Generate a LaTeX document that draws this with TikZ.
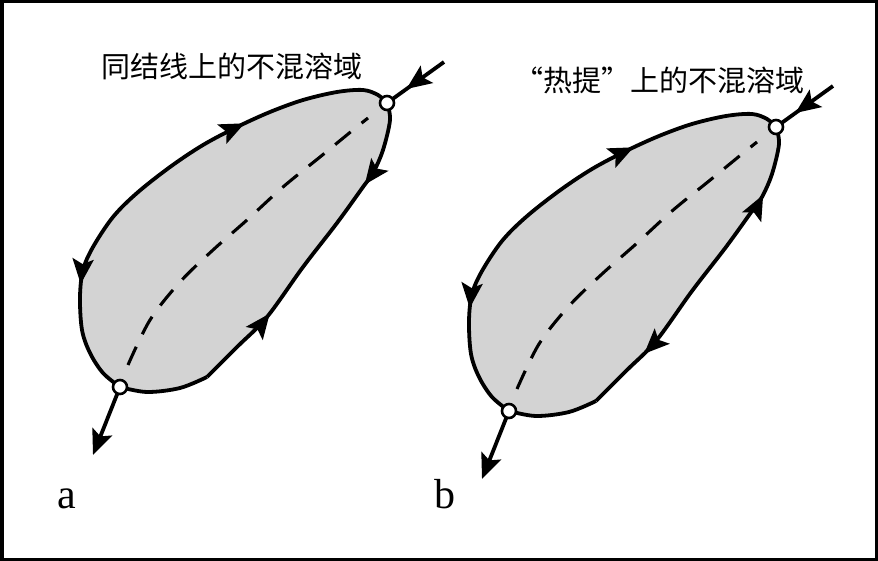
\documentclass[tikz,border=0pt]{standalone}
\usepackage{fontspec}
\setmainfont{Liberation Serif}
\newfontfamily\cjk{Noto Sans CJK SC}
\usetikzlibrary{arrows.meta,decorations.markings}
\definecolor{fillg}{RGB}{211,211,211}
\tikzset{
  myarr/.tip={Stealth[length=25pt,width=21pt,inset=5pt]},
  bnd/.style={line width=3.8pt, line join=round},
  hole/.style={circle, draw, fill=white, line width=2.6pt, minimum size=14pt, inner sep=0pt},
  fwd/.style={postaction={decorate,decoration={markings,mark=at position #1 with {\arrow{myarr}}}}},
  bwd/.style={postaction={decorate,decoration={markings,mark=at position #1 with {\arrowreversed{myarr}}}}},
  dashln/.style={line width=3.1pt, dash pattern=on 20pt off 14pt},
  ttl/.style={font=\cjk\fontsize{29}{29}\selectfont},
  lbl/.style={font=\fontsize{42}{42}\selectfont, anchor=base}
}
% #1 suffix, #2 first right-side arrow, #3 second right-side arrow
\newcommand\drawblob[3]{%
  \coordinate (T#1) at (387,103);
  \coordinate (B#1) at (120,387);
  \coordinate (C#1) at (207,377);
  \coordinate (in#1) at (444,62);
  \coordinate (out#1) at (93,455);
  \fill[fillg] plot[smooth,tension=0.55] coordinates {(B#1)(103,373)(90,353)(82,330)(80,297)(83,270)(93,247)(113,217)(137,193)(170,167)(203,145)(237,127)(270,112)(303,100)(337,92)(363,90)(378,95)(T#1)}
    -- plot[smooth,tension=0.55] coordinates {(T#1)(390,120)(383,150)(373,173)(363,187)(337,223)(303,267)(267,317)(237,347)(C#1)}
    -- plot[smooth,tension=0.55] coordinates {(C#1)(180,388)(147,392)(B#1)} -- cycle;
  \draw[dashln] plot[smooth,tension=0.55] coordinates {(128,365)(150,320)(180,282)(213,250)(247,220)(283,187)(320,157)(353,130)(368,118)};
  % upper-left boundary B -> T
  \draw[bnd, fwd=0.70, bwd=0.23] plot[smooth,tension=0.55] coordinates {(B#1)(103,373)(90,353)(82,330)(80,297)(83,270)(93,247)(113,217)(137,193)(170,167)(203,145)(237,127)(270,112)(303,100)(337,92)(363,90)(378,95)(T#1)};
  % right boundary T -> corner
  \draw[bnd, #2, #3] plot[smooth,tension=0.55] coordinates {(T#1)(390,120)(383,150)(373,173)(363,187)(337,223)(303,267)(267,317)(237,347)(C#1)};
  % bottom boundary corner -> B
  \draw[bnd] plot[smooth,tension=0.55] coordinates {(C#1)(180,388)(147,392)(B#1)};
  % outside arrows
  \draw[bnd, fwd=0.66] (in#1) -- (T#1);
  \draw[bnd, -{myarr}] (B#1) -- (out#1);
  \node[hole] (Tn#1) at (T#1) {};
  \node[hole] (Bn#1) at (B#1) {};
}
\begin{document}
\begin{tikzpicture}[x=1pt,y=-1pt]
  \useasboundingbox (0,0) rectangle (878,561);
  \draw[line width=3.5pt] (1.75,1.75) rectangle (876.25,559.25);
  \begin{scope}
    \drawblob{a}{fwd=0.26}{bwd=0.735}
  \end{scope}
  \begin{scope}[shift={(389,24)}]
    \drawblob{b}{bwd=0.21}{fwd=0.80}
  \end{scope}
  \node[ttl] (ta) at (232,66) {同结线上的不混溶域};
  \node[ttl] (tb) at (659,80) {“热提”上的不混溶域};
  \node[lbl] (la) at (67,508) {a};
  \node[lbl] (lb) at (445,508) {b};
\end{tikzpicture}
\end{document}
